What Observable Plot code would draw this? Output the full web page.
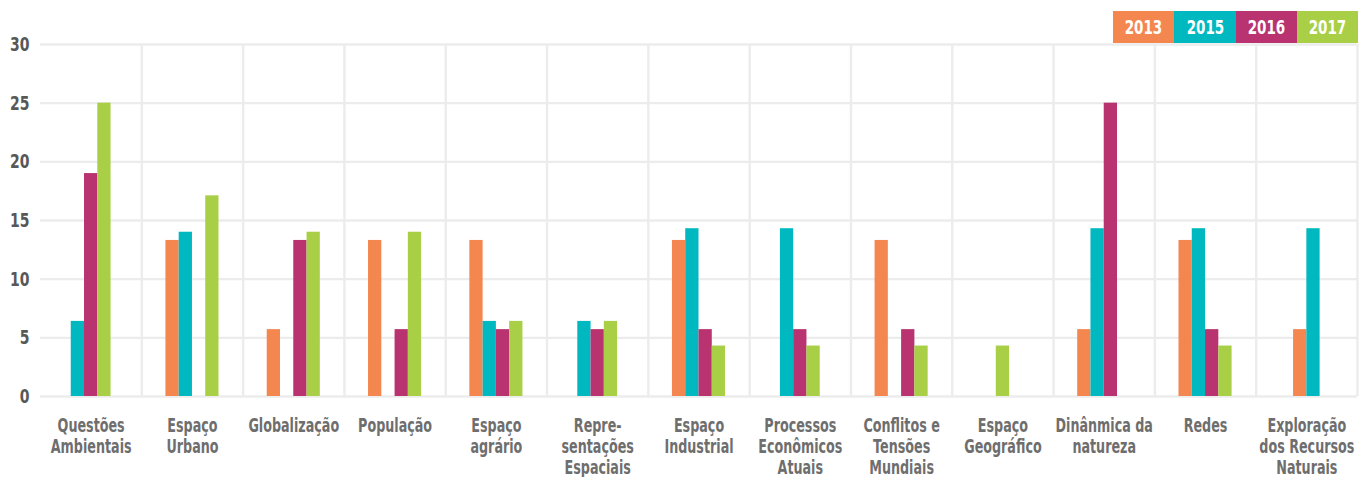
<!DOCTYPE html>
<html>
<head>
<meta charset="utf-8">
<script src="https://cdn.jsdelivr.net/npm/d3@7"></script>
<script src="https://cdn.jsdelivr.net/npm/@observablehq/plot@0.6"></script>
<style>
  html, body { margin: 0; padding: 0; background: #fff; overflow: hidden; }
  #wrap { position: relative; width: 1370px; height: 477px; }
  #legend { position: absolute; left: 1113px; top: 11px; display: flex; z-index: 2; }
  #legend div { width: 61.3px; height: 32px; display: flex; align-items: center; justify-content: center; }
  #legend span { display: inline-block; color: #fff; font-family: "DejaVu Sans", sans-serif; font-weight: bold;
    font-size: 19px; line-height: 19px; transform: scaleX(0.71); }
</style>
</head>
<body>
<div id="wrap"><div id="legend"></div></div>
<script>
const categories = [
  "Questões\nAmbientais", "Espaço\nUrbano", "Globalização", "População", "Espaço\nagrário",
  "Repre-\nsentações\nEspaciais", "Espaço\nIndustrial", "Processos\nEconômicos\nAtuais",
  "Conflitos e\nTensões\nMundiais", "Espaço\nGeográfico", "Dinânmica da\nnatureza", "Redes",
  "Exploração\ndos Recursos\nNaturais"
];
const years = ["2013", "2015", "2016", "2017"];
const colors = ["#F4874F", "#00B8C0", "#B83370", "#A8CF45"];
// null = no bar for that year in the category
const v2013 = [null, 13.3, 5.7, 13.3, 13.3, null, 13.3, null, 13.3, null, 5.7, 13.3, 5.7];
const v2015 = [6.4, 14.0, 0, 0, 6.4, 6.4, 14.3, 14.3, 0, null, 14.3, 14.3, 14.3];
const v2016 = [19.0, 0, 13.3, 5.7, 5.7, 5.7, 5.7, 5.7, 5.7, null, 25.0, 5.7, null];
const v2017 = [25.0, 17.1, 14.0, 14.0, 6.4, 6.4, 4.3, 4.3, 4.3, 4.3, 0, 4.3, null];
const yTicks = [0, 5, 10, 15, 20, 25, 30];

const series = [v2013, v2015, v2016, v2017];
const bw = 0.131;
const bars = [];
categories.forEach((c, i) => {
  const present = [];
  series.forEach((s, j) => { if (s[i] !== null) present.push({year: years[j], value: s[i]}); });
  const n = present.length;
  present.forEach((p, k) => {
    const x1 = i + (k - n / 2) * bw;
    bars.push({cat: i, year: p.year, value: p.value, x1, x2: x1 + bw});
  });
});
const labels = categories.map((c, i) => ({i, label: c}));
const bounds = categories.map((c, i) => i + 0.5);

const font = '"DejaVu Sans", sans-serif';

const chart = Plot.plot({
  width: 1370,
  height: 477,
  marginLeft: 40,
  marginRight: 13,
  marginTop: 44,
  marginBottom: 81,
  style: {fontFamily: font, fontWeight: "bold", background: "#fff"},
  x: {domain: [-0.5, categories.length - 0.5], axis: null},
  y: {domain: [0, 30], axis: null},
  color: {domain: years, range: colors},
  marks: [
    Plot.ruleY(yTicks, {stroke: "#ececec", strokeWidth: 2.4}),
    Plot.ruleX(bounds, {y1: 0, y2: 30, stroke: "#ececec", strokeWidth: 2.4}),
    Plot.rect(bars, {x1: "x1", x2: "x2", y1: d => 0, y2: "value", fill: "year"}),
    Plot.axisY(yTicks, {label: null, tickSize: 0, tickPadding: 11, fontSize: 20, fill: "#585858",
      fontWeight: "bold", className: "yax"}),
    Plot.text(labels, {x: "i", y: d => 0, text: "label", lineAnchor: "top", dy: 20,
      fontSize: 19, lineHeight: 1.12, fill: "#6e6e6e", fontWeight: "bold", textAnchor: "middle",
      className: "xlab"})
  ]
});
document.getElementById("wrap").appendChild(chart);

// condense the text horizontally (reference uses a condensed typeface)
function condense(sel, s) {
  chart.querySelectorAll(sel).forEach(t => {
    const tr = t.getAttribute("transform");
    if (tr) {
      t.setAttribute("transform", tr + ` scale(${s},1)`);
    } else {
      const x = +(t.getAttribute("x") || 0);
      t.setAttribute("transform", `translate(${x},0) scale(${s},1) translate(${-x},0)`);
    }
  });
}
condense(".xlab text", 0.67);
condense(".yax text", 0.7);

const legend = document.getElementById("legend");
years.forEach((y, j) => {
  const d = document.createElement("div");
  d.style.background = colors[j];
  const s = document.createElement("span");
  s.textContent = y;
  d.appendChild(s);
  legend.appendChild(d);
});
</script>
</body>
</html>
